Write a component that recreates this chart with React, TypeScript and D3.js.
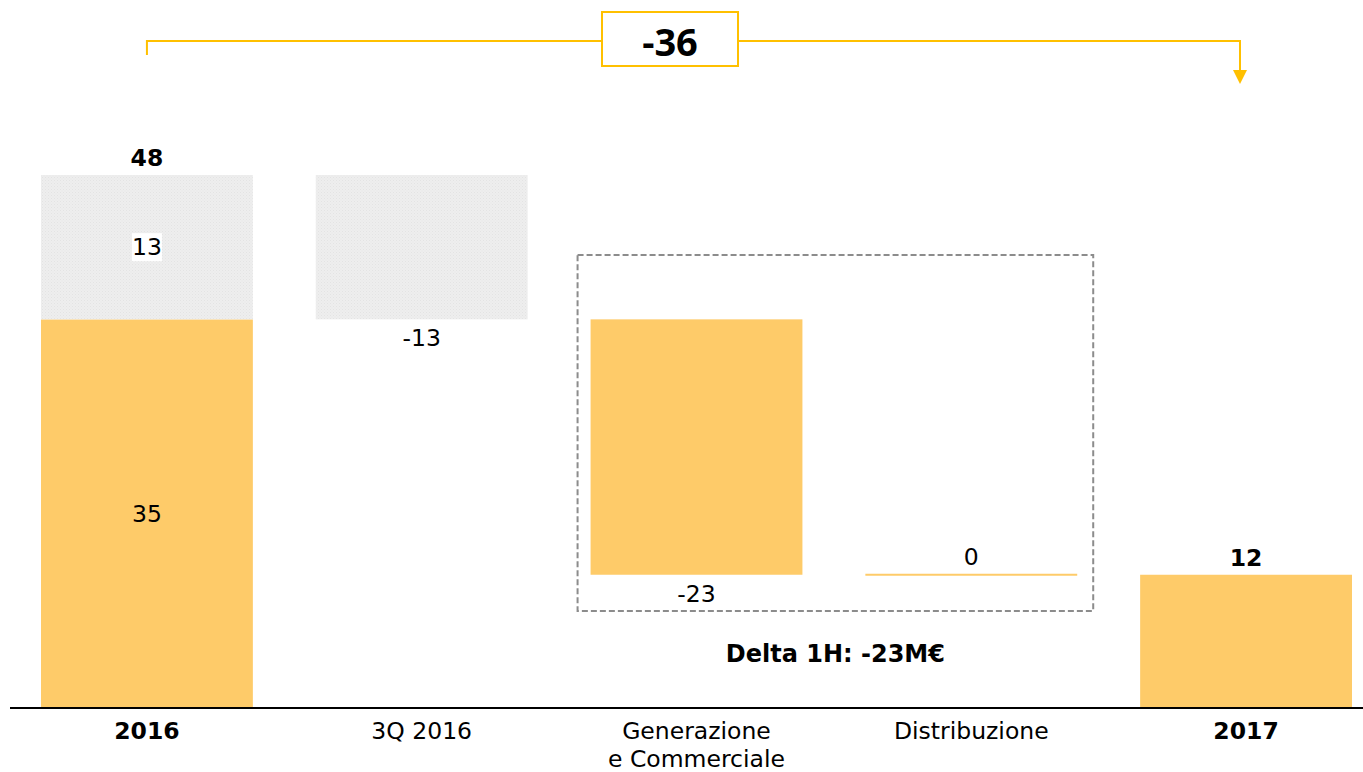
import React from "react";
import * as d3 from "d3";

const categories = ["2016", "3Q 2016", "Generazione|e Commerciale", "Distribuzione", "2017"];
const boldCategory = [true, false, false, false, true];
const start2016Parts = [35, 13]; // orange base, gray 3Q part
const deltas = [-13, -23, 0]; // 3Q 2016, Generazione e Commerciale, Distribuzione
const deltaIsGray = [true, false, false];
const end2017 = 12;
const bracketLabel = "-36";
const boxNote = "Delta 1H: -23M€";

const W = 1363;
const H = 772;
const ORANGE = "#FECB69";
const YELLOW = "#FFC000";
const FONT = "'DejaVu Sans', Verdana, sans-serif";
const FS = 23.5;

export default function App() {
  const x = d3.scaleBand<string>().domain(categories).range([41, 1352]).paddingInner(0.229).paddingOuter(0);
  const total2016 = d3.sum(start2016Parts);
  const y = d3.scaleLinear().domain([0, total2016]).range([708, 175]);
  const bw = x.bandwidth();
  const cx = (c: string) => (x(c) as number) + bw / 2;

  let running = total2016;
  const steps = deltas.map((d, i) => {
    const from = running;
    running += d;
    return { cat: categories[i + 1], from, to: running, d, gray: deltaIsGray[i] };
  });

  const c0 = categories[0];
  const cLast = categories[4];

  const genCat = categories[2];
  const disCat = categories[3];
  const boxX0 = (x(genCat) as number) - 13;
  const boxX1 = (x(disCat) as number) + bw + 16;

  const leftX = cx(c0);
  const rightX = 1240;
  const brY = 41;

  return (
    <svg width={W} height={H} style={{ position: "absolute", left: 0, top: 0 }} fontFamily={FONT}>
      <defs>
        <pattern id="grayTex" width="3" height="3" patternUnits="userSpaceOnUse">
          <rect width="3" height="3" fill="#EEEEEE" />
          <rect x="0" y="0" width="1" height="1" fill="#E3E3E3" />
          <rect x="1.5" y="1.5" width="1" height="1" fill="#E6E6E6" />
        </pattern>
      </defs>
      <rect width={W} height={H} fill="#fff" />

      {/* bracket */}
      <path d={`M${leftX},55 V${brY} H602`} fill="none" stroke={YELLOW} strokeWidth={2} />
      <path d={`M738,${brY} H${rightX} V72`} fill="none" stroke={YELLOW} strokeWidth={2} />
      <path d={`M${rightX - 7},70 L${rightX + 7},70 L${rightX},84 Z`} fill={YELLOW} />
      <rect x={602} y={12} width={136} height={54} fill="#fff" stroke={YELLOW} strokeWidth={2} />
      <text x={670} y={41} textAnchor="middle" dominantBaseline="central" fontSize={38} fontWeight="bold" fontFamily="'Open Sans', sans-serif">
        {bracketLabel}
      </text>

      {/* 2016 stacked */}
      <rect x={x(c0)} y={y(start2016Parts[0])} width={bw} height={y(0) - y(start2016Parts[0])} fill={ORANGE} />
      <rect x={x(c0)} y={y(total2016)} width={bw} height={y(start2016Parts[0]) - y(total2016)} fill="url(#grayTex)" />
      <text x={cx(c0)} y={y(total2016) - 17} textAnchor="middle" dominantBaseline="central" fontSize={FS} fontWeight="bold">{total2016}</text>
      <rect x={cx(c0) - 15} y={(y(total2016) + y(start2016Parts[0])) / 2 - 14} width={30} height={28} fill="#fff" />
      <text x={cx(c0)} y={(y(total2016) + y(start2016Parts[0])) / 2} textAnchor="middle" dominantBaseline="central" fontSize={FS}>{start2016Parts[1]}</text>
      <text x={cx(c0)} y={(y(0) + y(start2016Parts[0])) / 2} textAnchor="middle" dominantBaseline="central" fontSize={FS}>{start2016Parts[0]}</text>

      {/* deltas */}
      {steps.map((s) => {
        const top = y(Math.max(s.from, s.to));
        const bot = y(Math.min(s.from, s.to));
        const h = Math.max(bot - top, 2);
        return (
          <g key={s.cat}>
            <rect x={x(s.cat)} y={s.d === 0 ? top - 1 : top} width={bw} height={h} fill={s.gray ? "url(#grayTex)" : ORANGE} />
            {s.d === 0 ? (
              <text x={cx(s.cat)} y={top - 18} textAnchor="middle" dominantBaseline="central" fontSize={FS}>{s.d}</text>
            ) : (
              <text x={cx(s.cat)} y={bot + 19} textAnchor="middle" dominantBaseline="central" fontSize={FS}>{s.d}</text>
            )}
          </g>
        );
      })}

      {/* 2017 */}
      <rect x={x(cLast)} y={y(end2017)} width={bw} height={y(0) - y(end2017)} fill={ORANGE} />
      <text x={cx(cLast)} y={y(end2017) - 17} textAnchor="middle" dominantBaseline="central" fontSize={FS} fontWeight="bold">{end2017}</text>

      {/* dashed box */}
      <rect x={boxX0} y={255} width={boxX1 - boxX0} height={356} fill="none" stroke="#8C8C8C" strokeWidth={2} strokeDasharray="6,3" />
      <text x={(boxX0 + boxX1) / 2} y={654} textAnchor="middle" dominantBaseline="central" fontSize={24} fontWeight="bold">{boxNote}</text>

      {/* axis */}
      <line x1={10} x2={W} y1={y(0)} y2={y(0)} stroke="#000" strokeWidth={2} />
      {categories.map((c, i) => (
        <text key={c} x={cx(c)} textAnchor="middle" fontSize={FS} fontWeight={boldCategory[i] ? "bold" : "normal"}>
          {c.split("|").map((line, j) => (
            <tspan key={j} x={cx(c)} y={739 + j * 28}>{line}</tspan>
          ))}
        </text>
      ))}
    </svg>
  );
}
